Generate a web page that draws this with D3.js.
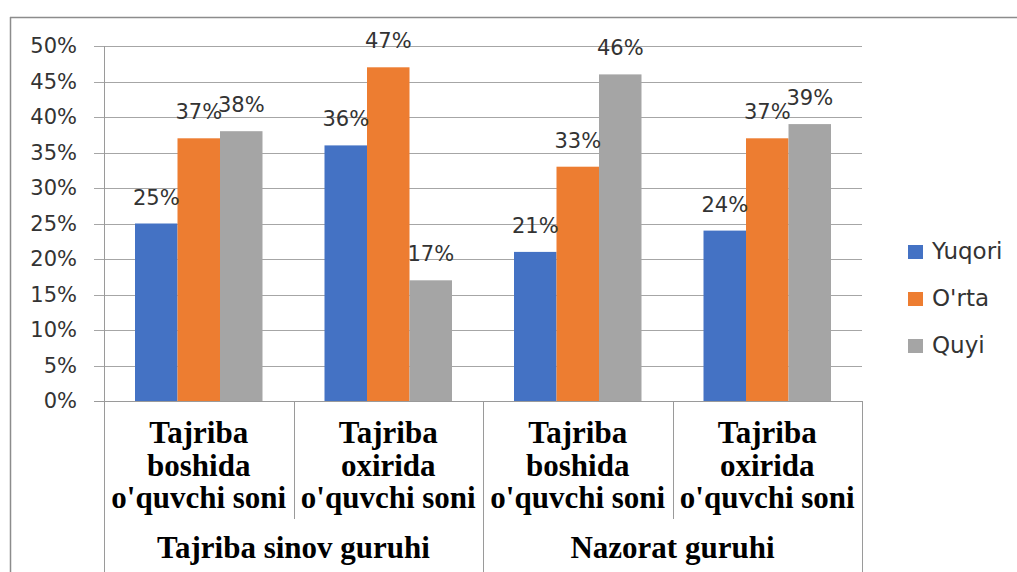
<!DOCTYPE html>
<html><head><meta charset="utf-8">
<script src="https://cdn.jsdelivr.net/npm/d3@7"></script>
<style>
html,body{margin:0;padding:0;background:#fff;}
svg{display:block;}
</style></head>
<body>
<svg id="chart" width="1017" height="572"></svg>
<script>
const categories = [
  ["Tajriba","boshida","o'quvchi soni"],
  ["Tajriba","oxirida","o'quvchi soni"],
  ["Tajriba","boshida","o'quvchi soni"],
  ["Tajriba","oxirida","o'quvchi soni"]
];
const groups = ["Tajriba sinov guruhi", "Nazorat guruhi"];
const seriesNames = ["Yuqori", "O'rta", "Quyi"];
const yuqori = [0.25, 0.36, 0.21, 0.24];
const orta   = [0.37, 0.47, 0.33, 0.37];
const quyi   = [0.38, 0.17, 0.46, 0.39];
const colors = ["#4472C4", "#ED7D31", "#A5A5A5"];
const yTicks = [0,0.05,0.1,0.15,0.2,0.25,0.3,0.35,0.4,0.45,0.5];

(function(){
const values = [yuqori, orta, quyi];
const svg = d3.select("#chart");
const pL = 104, pR = 862, pT = 46, pB = 401;
const y = d3.scaleLinear().domain([0,0.5]).range([pB, pT]);
const x0 = d3.scaleBand().domain(d3.range(categories.length)).range([pL, pR]).padding(0);
const bw = x0.bandwidth();
const x1 = d3.scaleBand().domain(d3.range(seriesNames.length)).range([31, bw - 31]).padding(0);
const fmt = d3.format(".0%");
const sans = "'DejaVu Sans', sans-serif";
const serif = "'Liberation Serif', 'Times New Roman', serif";

// outer frame
svg.append("line").attr("x1",10).attr("x2",1017).attr("y1",17.5).attr("y2",17.5).attr("stroke","#8c8c8c").attr("stroke-width",1.5);
svg.append("line").attr("x1",10.5).attr("x2",10.5).attr("y1",17).attr("y2",572).attr("stroke","#8c8c8c").attr("stroke-width",1.5);

// gridlines
svg.append("g").selectAll("line").data(yTicks).join("line")
  .attr("x1", pL - 10).attr("x2", pR)
  .attr("y1", d => Math.round(y(d)) + 0.5).attr("y2", d => Math.round(y(d)) + 0.5)
  .attr("stroke", d => d === 0 ? "#9a9a9a" : "#a6a6a6").attr("stroke-width", 1);

// y axis labels
svg.append("g").selectAll("text").data(yTicks).join("text")
  .attr("x", 77).attr("y", d => y(d) + 7)
  .attr("text-anchor","end").attr("font-family", sans).attr("font-size", 21)
  .attr("fill","#333").text(d => fmt(d));

// y axis line
svg.append("line").attr("x1", pL + 0.5).attr("x2", pL + 0.5).attr("y1", pT).attr("y2", 572).attr("stroke","#9a9a9a");

// bars
const gCat = svg.append("g").selectAll("g").data(categories).join("g")
  .attr("transform", (d,i) => `translate(${x0(i)},0)`);
gCat.selectAll("rect").data((d,i) => values.map((s,j) => ({j, v: s[i]}))).join("rect")
  .attr("x", d => x1(d.j)).attr("width", x1.bandwidth())
  .attr("y", d => y(d.v)).attr("height", d => y(0) - y(d.v))
  .attr("fill", d => colors[d.j]);
gCat.selectAll("text.lbl").data((d,i) => values.map((s,j) => ({j, v: s[i]}))).join("text")
  .attr("class","lbl")
  .attr("x", d => x1(d.j) + x1.bandwidth()/2).attr("y", d => y(d.v) - 19)
  .attr("text-anchor","middle").attr("font-family", sans).attr("font-size", 21)
  .attr("fill","#333").text(d => fmt(d.v));

// category separators
d3.range(categories.length + 1).forEach(i => {
  const xx = i === categories.length ? pR : x0(i);
  const full = (i % 2 === 0);
  svg.append("line").attr("x1", Math.round(xx) + 0.5).attr("x2", Math.round(xx) + 0.5)
    .attr("y1", pB).attr("y2", full ? 572 : 519).attr("stroke","#9a9a9a");
});

// category labels
gCat.each(function(d){
  const t = d3.select(this).append("text").attr("text-anchor","middle")
    .attr("font-family", serif).attr("font-weight","bold").attr("font-size", 31).attr("fill","#000");
  d.forEach((line, k) => t.append("tspan").attr("x", bw/2).attr("y", 443 + k*32.5).text(line));
});

// group labels
svg.append("g").selectAll("text").data(groups).join("text")
  .attr("x", (d,i) => (x0(i*2) + (i*2+2 < categories.length ? x0(i*2+2) : pR)) / 2)
  .attr("y", 558).attr("text-anchor","middle")
  .attr("font-family", serif).attr("font-weight","bold").attr("font-size", 31).attr("fill","#000")
  .text(d => d);

// legend
const lg = svg.append("g").selectAll("g").data(seriesNames).join("g")
  .attr("transform", (d,i) => `translate(908, ${245 + i*47})`);
lg.append("rect").attr("width", 15).attr("height", 14).attr("fill", (d,i) => colors[i]);
lg.append("text").attr("x", 24).attr("y", 14).attr("font-family", sans).attr("font-size", 23)
  .attr("fill","#333").text(d => d);
})();
</script>
</body></html>
